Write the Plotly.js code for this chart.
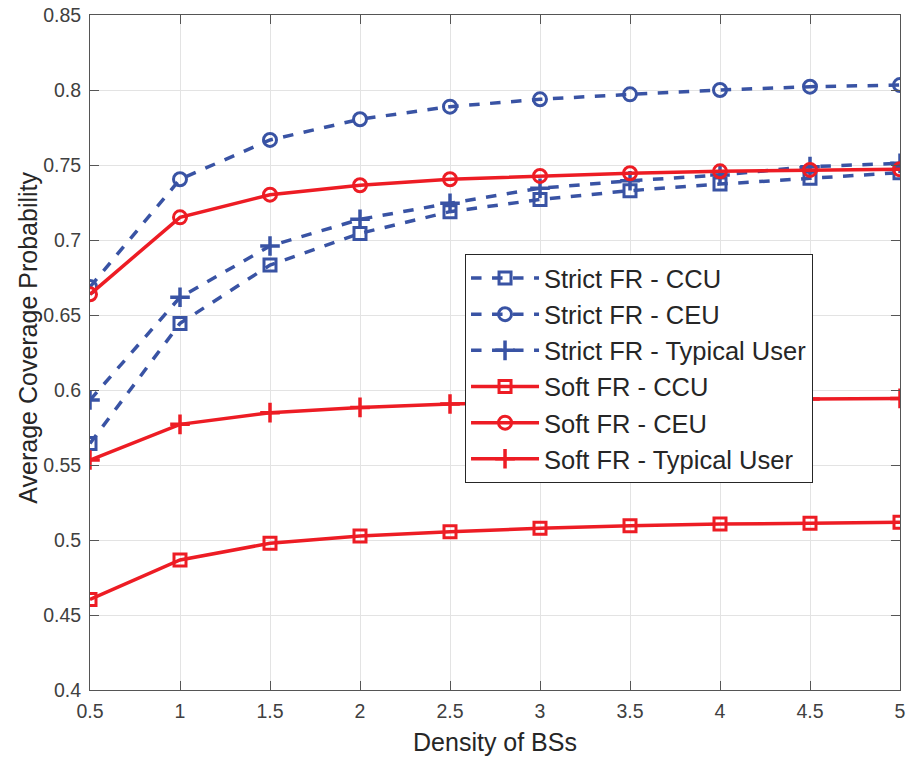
<!DOCTYPE html>
<html>
<head>
<meta charset="utf-8">
<script src="https://cdn.plot.ly/plotly-3.0.1.min.js"></script>
<style>html,body{margin:0;padding:0;background:#fff;}#chart{width:908px;height:761px;}</style>
</head>
<body>
<div id="chart"></div>
<script>
const density = [0.5, 1, 1.5, 2, 2.5, 3, 3.5, 4, 4.5, 5];
const strictCCU = [0.5644, 0.6444, 0.6833, 0.7044, 0.7189, 0.7270, 0.7329, 0.7373, 0.7411, 0.7449];
const strictCEU = [0.6687, 0.7405, 0.7667, 0.7805, 0.7889, 0.7938, 0.7971, 0.8000, 0.8022, 0.8033];
const strictTyp = [0.5933, 0.6618, 0.6960, 0.7138, 0.7245, 0.7345, 0.7395, 0.7433, 0.7489, 0.7511];
const softCCU = [0.4604, 0.4867, 0.4978, 0.5027, 0.5055, 0.5078, 0.5095, 0.5107, 0.5111, 0.5118];
const softCEU = [0.6638, 0.7151, 0.7302, 0.7365, 0.7405, 0.7427, 0.7445, 0.7458, 0.7467, 0.7471];
const softTyp = [0.5533, 0.5771, 0.5849, 0.5884, 0.5907, 0.5920, 0.5930, 0.5936, 0.5940, 0.5944];
const names = ['Strict FR - CCU','Strict FR - CEU','Strict FR - Typical User','Soft FR - CCU','Soft FR - CEU','Soft FR - Typical User'];
const xTicks = [0.5, 1, 1.5, 2, 2.5, 3, 3.5, 4, 4.5, 5];
const yTicks = [0.4, 0.45, 0.5, 0.55, 0.6, 0.65, 0.7, 0.75, 0.8, 0.85];
const xTitle = 'Density of BSs';
const yTitle = 'Average Coverage Probability';

const blue = '#3953a4', red = '#ed1c24';
function tr(y, name, color, dash, symbol){
  const isCross = symbol === 'cross-thin-open';
  const isCircle = symbol === 'circle-open';
  return {x: density, y: y, name: name, type: 'scatter', mode: 'lines+markers',
    line: {color: color, width: 3.5, dash: dash},
    marker: {symbol: symbol, size: isCross ? 14 : (isCircle ? 13 : 12), color: color,
             line: {color: color, width: isCross ? 3.5 : 3}}};
}
const data = [
  tr(strictCCU, names[0], blue, 'dash', 'square-open'),
  tr(strictCEU, names[1], blue, 'dash', 'circle-open'),
  tr(strictTyp, names[2], blue, 'dash', 'cross-thin-open'),
  tr(softCCU, names[3], red, 'solid', 'square-open'),
  tr(softCEU, names[4], red, 'solid', 'circle-open'),
  tr(softTyp, names[5], red, 'solid', 'cross-thin-open')
];

const axisCommon = {showline: true, mirror: 'ticks', linecolor: '#555', linewidth: 1,
  ticks: 'inside', ticklen: 9, tickcolor: '#555', showgrid: true, gridcolor: '#e3e3e3', gridwidth: 1,
  zeroline: false, automargin: false, ticklabelstandoff: 4,
  tickfont: {family: 'Liberation Sans, Arial, sans-serif', size: 19.5, color: '#404040'}};
const layout = {
  width: 908, height: 761,
  margin: {l: 90, r: 8, t: 15, b: 71},
  paper_bgcolor: '#fff', plot_bgcolor: '#fff',
  font: {family: 'Liberation Sans, Arial, sans-serif', color: '#262626'},
  xaxis: Object.assign({}, axisCommon, {range: [0.5, 5], tickvals: xTicks, ticktext: xTicks.map(String),
    title: {text: xTitle, font: {size: 25, color: '#262626'}, standoff: 12}}),
  yaxis: Object.assign({}, axisCommon, {range: [0.4, 0.85], tickvals: yTicks, ticktext: yTicks.map(String)}),
  annotations: [{text: yTitle, textangle: -90, xref: 'paper', yref: 'paper',
    x: -0.0765, xanchor: 'center', y: 0.522, yanchor: 'middle', showarrow: false,
    font: {size: 25, color: '#262626'}}],
  showlegend: true,
  legend: {x: 0.463, y: 0.646, xanchor: 'left', yanchor: 'top', bgcolor: '#fff',
    bordercolor: '#262626', borderwidth: 1, font: {size: 25.5, color: '#262626'},
    itemwidth: 68, tracegroupgap: 0}
};
Plotly.newPlot('chart', data, layout, {displayModeBar: false, staticPlot: true});
</script>
</body>
</html>
